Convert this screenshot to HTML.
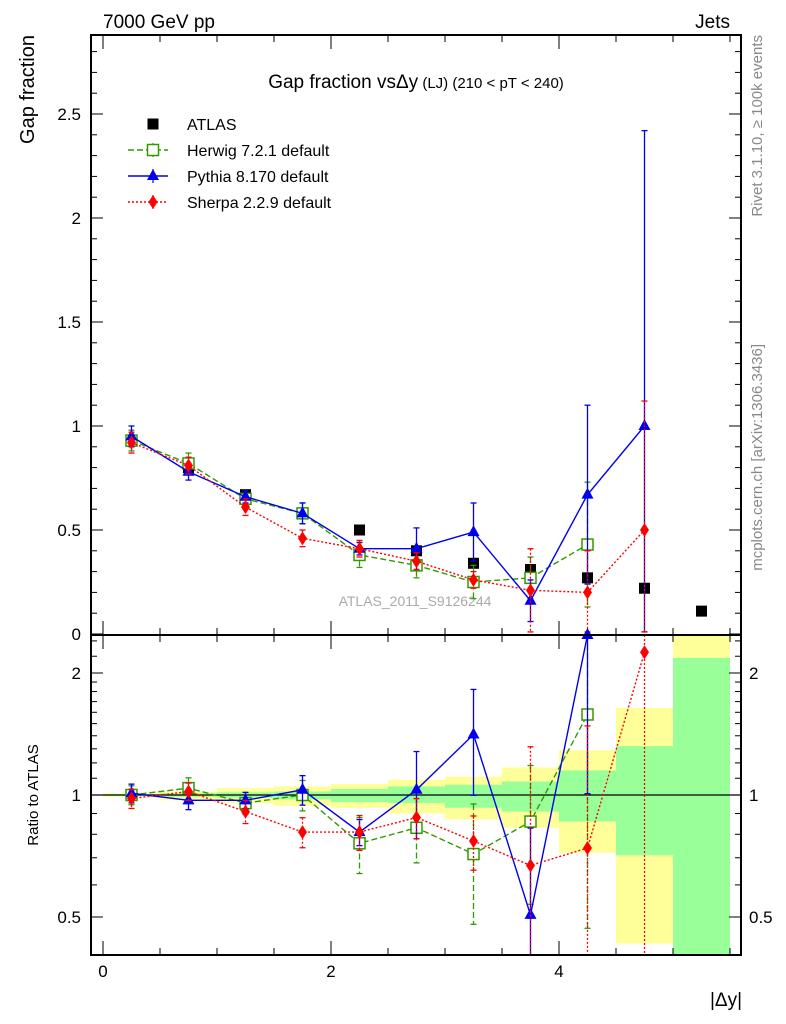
<!DOCTYPE html>
<html><head><meta charset="utf-8">
<style>
html,body{margin:0;padding:0;background:#fff;}
svg{display:block;font-family:"Liberation Sans",sans-serif;}
</style></head>
<body>
<svg id="chart" width="786" height="1024" viewBox="0 0 786 1024" xmlns="http://www.w3.org/2000/svg">
<text x="103" y="28" font-size="19">7000 GeV pp</text>
<text x="730" y="28" font-size="19" text-anchor="end">Jets</text>
<text x="416" y="88" font-size="19" text-anchor="middle">Gap fraction vs<tspan>Δy</tspan><tspan font-size="15"> (LJ) (210 &lt; pT &lt; 240)</tspan></text>
<text transform="translate(34,35) rotate(-90)" font-size="20" text-anchor="end">Gap fraction</text>
<text transform="translate(38,795) rotate(-90)" font-size="15" text-anchor="middle">Ratio to ATLAS</text>
<text transform="translate(762,35) rotate(-90)" font-size="15" fill="#888" text-anchor="end">Rivet 3.1.10, ≥ 100k events</text>
<text transform="translate(762,344) rotate(-90)" font-size="15" fill="#888" text-anchor="end">mcplots.cern.ch [arXiv:1306.3436]</text>
<text x="726" y="1006" font-size="19" text-anchor="middle">|Δy|</text>
<text x="415" y="606" font-size="14" fill="#aaa" text-anchor="middle">ATLAS_2011_S9126244</text>
<g id="bands"></g><g id="marks"></g><g id="axes"></g><g id="legend"></g>
</svg>
<script>
const xCenters=[0.25,0.75,1.25,1.75,2.25,2.75,3.25,3.75,4.25,4.75,5.25];
const atlas=[0.93,0.80,0.67,0.58,0.50,0.40,0.34,0.31,0.27,0.22,0.11];
const herwig=[0.93,0.82,0.65,0.58,0.38,0.33,0.25,0.27,0.43];
const herwigErr=[0.05,0.05,0.04,0.05,0.06,0.06,0.08,0.10,0.30];
const pythia=[0.95,0.78,0.66,0.58,0.41,0.41,0.49,0.16,0.67,1.00];
const pythiaErr=[0.05,0.04,0.03,0.05,0.03,0.10,0.14,0.10,0.43,1.42];
const sherpa=[0.92,0.81,0.61,0.46,0.41,0.35,0.26,0.21,0.20,0.50];
const sherpaErr=[0.05,0.04,0.04,0.04,0.04,0.04,0.04,0.20,0.20,0.62];
const rHerwig=[1.0,1.04,0.955,1.0,0.76,0.83,0.715,0.86,1.58];
const rPythia=[1.01,0.97,0.97,1.03,0.81,1.03,1.41,0.506,2.6];
const rSherpa=[0.98,1.02,0.91,0.81,0.81,0.88,0.77,0.67,0.74,2.25];
const bandYelHi=[1.01,1.02,1.04,1.05,1.065,1.09,1.11,1.17,1.29,1.64,2.6];
const bandYelLo=[0.99,0.97,0.955,0.94,0.93,0.90,0.87,0.83,0.72,0.43,0.3];
const bandGrnHi=[1.005,1.01,1.015,1.02,1.035,1.05,1.06,1.08,1.15,1.32,2.18];
const bandGrnLo=[0.995,0.99,0.985,0.975,0.96,0.955,0.93,0.91,0.86,0.71,0.3];
const mainTicks=[0,0.5,1,1.5,2,2.5];
const mainTickLabels=["0","0.5","1","1.5","2","2.5"];
const ratioTicks=[0.5,1,2];
const xTicks=[0,2,4];

const L=91,R=741,T=35,MB=635,RB=955;
const X=v=>103+v*114;
const Y=v=>634-v*208;
const RY=v=>{let p=795-Math.log2(v)*122;return Math.max(MB,Math.min(RB,p));};
const RYraw=v=>795-Math.log2(v)*122;
const NS="http://www.w3.org/2000/svg";
function mk(tag,attrs,parent){const e=document.createElementNS(NS,tag);for(const k in attrs)e.setAttribute(k,attrs[k]);parent.appendChild(e);return e;}
const bands=document.getElementById('bands'),marks=document.getElementById('marks'),axes=document.getElementById('axes'),legend=document.getElementById('legend');

for(let i=0;i<xCenters.length;i++){
  const x0=X(xCenters[i]-0.25),x1=X(xCenters[i]+0.25);
  const y1=RY(bandYelHi[i]),y2=RY(bandYelLo[i]);
  const b=mk('rect',{x:x0,y:y1,width:x1-x0,height:y2-y1,fill:'#ffff99'},bands);
  
  
  const g1=RY(bandGrnHi[i]),g2=RY(bandGrnLo[i]);
  const g=mk('rect',{x:x0,y:g1,width:x1-x0,height:g2-g1,fill:'#99ff99'},bands);
  
  
}
mk('line',{x1:L,x2:R,y1:795,y2:795,stroke:'#000','stroke-width':1.3},bands);

function clipY(y,top,bot){return Math.max(top,Math.min(bot,y));}
function series(vals,errs,color,dash,shape,yf,top,bot,name){
  const pts=vals.map((v,i)=>[X(xCenters[i]),clipY(yf(v),top,bot)]);
  const pl=mk('polyline',{points:pts.map(p=>p.join(',')).join(' '),fill:'none',stroke:color,'stroke-width':1.4,'stroke-dasharray':dash},marks);
  
  
  vals.forEach((v,i)=>{
    const cx=pts[i][0],cy=pts[i][1];
    if(errs){
      const hi=clipY(yf(v+errs[i]),top,bot),lo=clipY(yf(Math.max(v-errs[i],0.01)),top,bot);
      const el=mk('line',{x1:cx,x2:cx,y1:hi,y2:lo,stroke:color,'stroke-width':1.3,'stroke-dasharray':dash},marks);
      
      
      mk('line',{x1:cx-3,x2:cx+3,y1:hi,y2:hi,stroke:color,'stroke-width':1.3},marks);
      mk('line',{x1:cx-3,x2:cx+3,y1:lo,y2:lo,stroke:color,'stroke-width':1.3},marks);
    }
    drawMarker(shape,cx,cy,color,name+'-point',marks);
  });
}
function drawMarker(shape,cx,cy,color,name,parent){
  let m;
  if(shape==='sq') m=mk('rect',{x:cx-5.5,y:cy-5.5,width:11,height:11,fill:'#fff',stroke:color,'stroke-width':1.5},parent);
  else if(shape==='fsq') m=mk('rect',{x:cx-5.5,y:cy-5.5,width:11,height:11,fill:'#000'},parent);
  else if(shape==='tri') m=mk('polygon',{points:`${cx},${cy-7} ${cx-6},${cy+4} ${cx+6},${cy+4}`,fill:color},parent);
  else m=mk('polygon',{points:`${cx},${cy-7} ${cx-4.5},${cy} ${cx},${cy+7} ${cx+4.5},${cy}`,fill:color},parent);
  
  
}
atlas.forEach((v,i)=>drawMarker('fsq',X(xCenters[i]),Y(v),'#000','atlas-point',marks));
series(herwig,herwigErr,'#339900','6,3','sq',Y,T,MB,'herwig');
series(pythia,pythiaErr,'#0000ee','','tri',Y,T,MB,'pythia');
series(sherpa,sherpaErr,'#ff0000','2,2','dia',Y,T,MB,'sherpa');
function rseries(vals,errs,color,dash,shape,name){
  const re=vals.map((v,i)=>errs[i]/atlas[i]);
  series(vals,re,color,dash,shape,RYraw,MB,RB,name);
}
rseries(rHerwig,herwigErr,'#339900','6,3','sq','herwig-ratio');
rseries(rPythia,pythiaErr,'#0000ee','','tri','pythia-ratio');
rseries(rSherpa,sherpaErr,'#ff0000','2,2','dia','sherpa-ratio');

mk('rect',{x:L,y:T,width:R-L,height:MB-T,fill:'none',stroke:'#000','stroke-width':2},axes);
mk('rect',{x:L,y:MB,width:R-L,height:RB-MB,fill:'none',stroke:'#000','stroke-width':2},axes);
for(let v=0;v<=2.85;v+=0.1){const y=Y(v);const maj=Math.abs(v*2-Math.round(v*2))<1e-6;const l=maj?12:6;
  mk('line',{x1:L,x2:L+l,y1:y,y2:y,stroke:'#000','stroke-width':1},axes);
  mk('line',{x1:R,x2:R-l,y1:y,y2:y,stroke:'#000','stroke-width':1},axes);}
mainTicks.forEach((v,i)=>{const t=mk('text',{x:L-10,y:Y(v)+6,'font-size':17,'text-anchor':'end'},axes);t.textContent=mainTickLabels[i];
  
  });
[0.5,0.6,0.7,0.8,0.9,1,1.1,1.2,1.3,1.4,1.5,1.6,1.7,1.8,1.9,2,2.2,2.4].forEach(v=>{const y=RYraw(v);if(y<MB||y>RB)return;const maj=ratioTicks.includes(v);const l=maj?12:6;
  mk('line',{x1:L,x2:L+l,y1:y,y2:y,stroke:'#000','stroke-width':1},axes);
  mk('line',{x1:R,x2:R-l,y1:y,y2:y,stroke:'#000','stroke-width':1},axes);});
ratioTicks.forEach(v=>{const t=mk('text',{x:L-10,y:RYraw(v)+6,'font-size':17,'text-anchor':'end'},axes);t.textContent=String(v);
  
  
  const t2=mk('text',{x:R+8,y:RYraw(v)+6,'font-size':17},axes);t2.textContent=String(v);
  
  });
for(let v=0;v<=5.5;v+=0.5){const x=X(v);const maj=Math.abs(v%2)<1e-6;const l=maj?14:7;
  [[MB,-1],[RB,-1],[T,1],[MB,1]].forEach(([y0,d])=>mk('line',{x1:x,x2:x,y1:y0,y2:y0+d*l,stroke:'#000','stroke-width':1},axes));}
xTicks.forEach(v=>{const t=mk('text',{x:X(v),y:977,'font-size':17,'text-anchor':'middle'},axes);t.textContent=String(v);
  
  });

const legNames=['ATLAS','Herwig 7.2.1 default','Pythia 8.170 default','Sherpa 2.2.9 default'];
const legColors=['#000','#339900','#0000ee','#ff0000'];
const legShapes=['fsq','sq','tri','dia'];
const legDash=['','6,3','','2,2'];
legNames.forEach((n,i)=>{const y=124+i*26;
  const g=mk('g',{},legend);
  
  
  if(i>0) mk('line',{x1:128,x2:168,y1:y,y2:y,stroke:legColors[i],'stroke-width':1.4,'stroke-dasharray':legDash[i]},g);
  if(i>0) mk('line',{x1:153,x2:153,y1:y-7,y2:y+7,stroke:legColors[i],'stroke-width':1.2},g);
  drawMarker(legShapes[i],153,y,legColors[i],'legend-marker',g);
  const t=mk('text',{x:187,y:y+6,'font-size':16},g);t.textContent=n;});
</script>
</body></html>
